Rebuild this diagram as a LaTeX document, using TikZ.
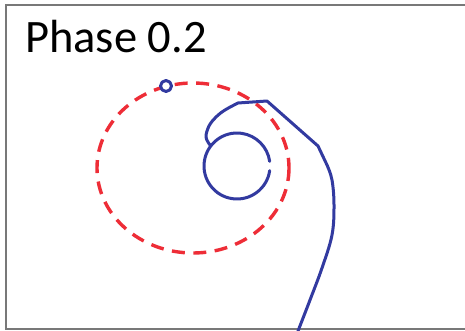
\documentclass[tikz,border=0pt]{standalone}
\usepackage{fontspec}
\setmainfont{Carlito}
\definecolor{spiralblue}{RGB}{50,58,160}
\definecolor{dashred}{RGB}{238,45,55}
\definecolor{framegray}{RGB}{120,120,120}
\tikzset{
  framestyle/.style={draw=framegray, line width=1.8pt},
  orbit/.style={draw=dashred, line width=3.4pt, dash pattern=on 13pt off 8.5pt},
  bluepath/.style={draw=spiralblue, line width=3pt, line join=round, line cap=round},
  titlestyle/.style={anchor=base west, inner sep=0pt, font=\fontsize{46.5}{50}\selectfont}
}
\begin{document}
\begin{tikzpicture}[x=1pt,y=-1pt]
\useasboundingbox (0,0) rectangle (465,331);
\fill[white] (0,0) rectangle (465,331);
% frame
\draw[framestyle] (465,5) -- (6,5) -- (6,329) -- (465,329);
% title
\node[titlestyle] (title) at (25,53) {Phase 0.2};
% red dashed orbit
\draw[orbit] (193,168) ellipse [x radius=96, y radius=85];
% small marker circle on the orbit
\draw[bluepath, fill=white] (166,86) circle [radius=5.5];
% inner circle with small gap on the right
\draw[bluepath] (237,166) ++(8:33) arc[start angle=8, end angle=352, radius=33];
% spiral arm
\draw[bluepath] plot[smooth, tension=0.6] coordinates {(210,145) (206,137) (209,126) (216,117) (225,110) (238,103)}
  -- (267,101) -- (318,146) -- (327,165)
  plot[smooth, tension=0.6] coordinates {(327,165) (332,180) (334,205) (332,235) (322,268) (310,300) (298,331)};
\end{tikzpicture}
\end{document}
